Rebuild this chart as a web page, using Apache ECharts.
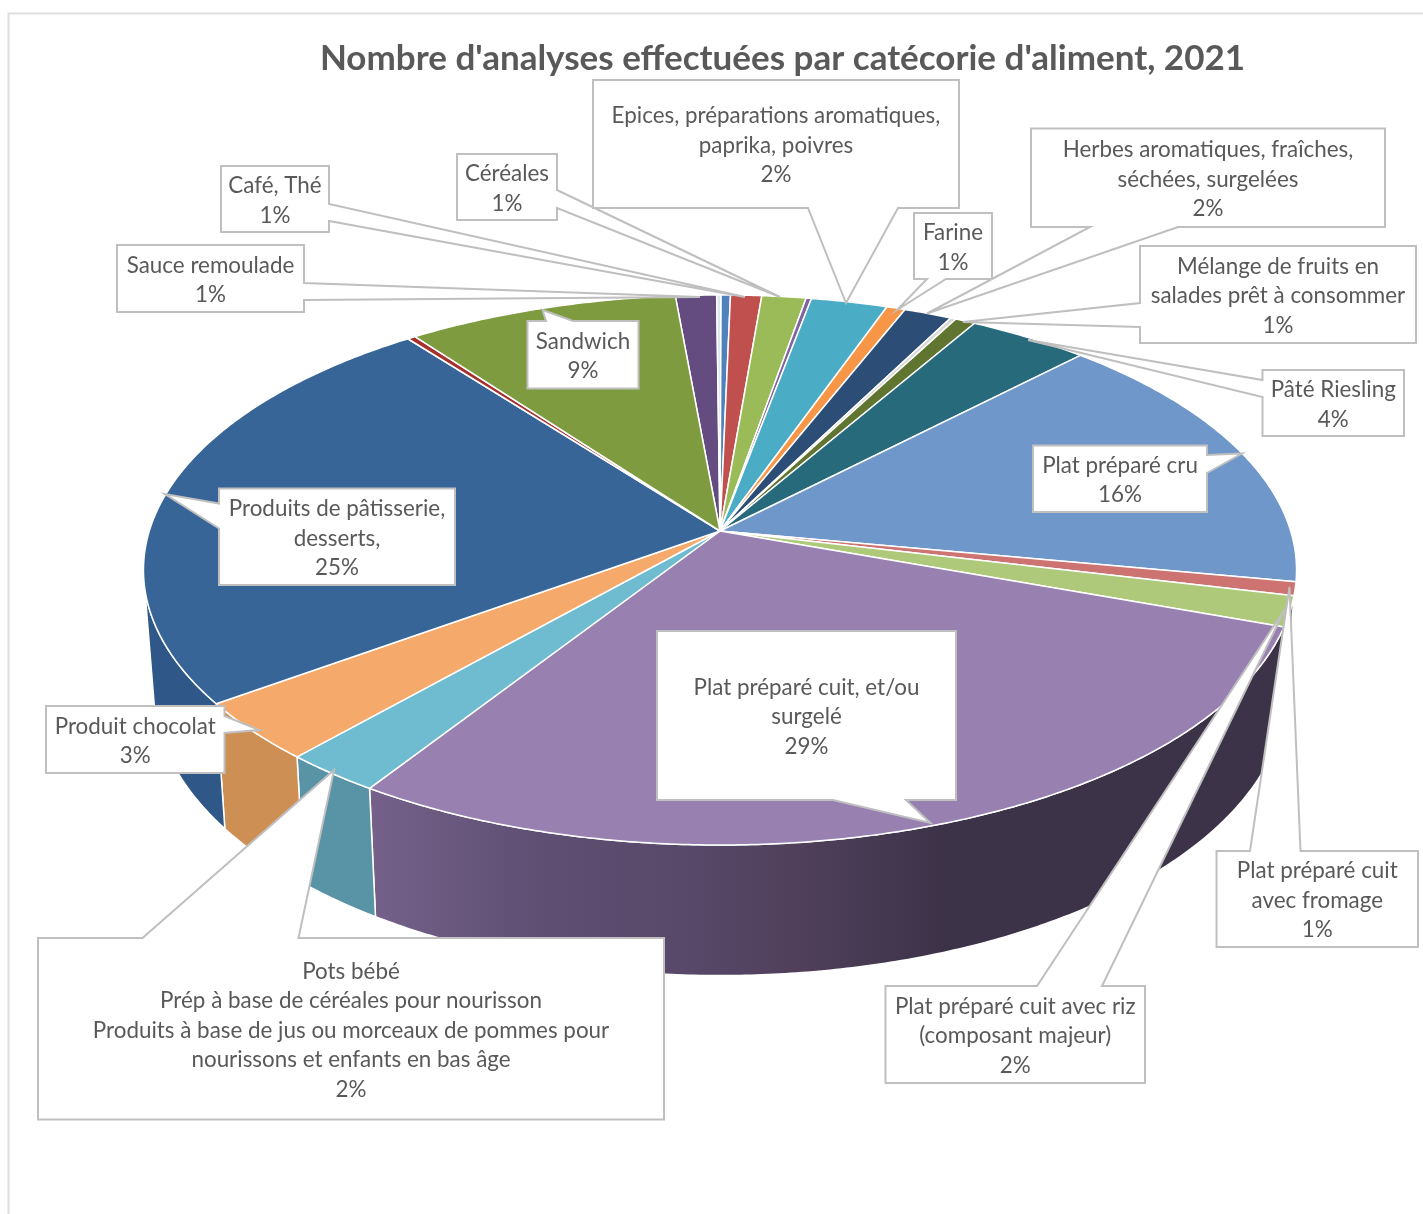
<!DOCTYPE html>
<html lang="fr">
<head>
<meta charset="utf-8">
<title>Nombre d'analyses par catégorie d'aliment</title>
<script src="https://cdn.jsdelivr.net/npm/echarts@6/dist/echarts.min.js"></script>
<style>
  html, body { margin: 0; padding: 0; background: #fff; }
  #chart { width: 1423px; height: 1214px; }
</style>
</head>
<body>
<div id="chart"></div>
<script>
// Shares of analyses per food category, clockwise from the first slice.
// Slices without a name carry no callout.
const sliceNames = [
  'Sauce remoulade', '', '', 'Café, Thé', 'Céréales', '',
  'Epices, préparations aromatiques,\npaprika, poivres', 'Farine',
  'Herbes aromatiques, fraîches,\nséchées, surgelées', '',
  'Mélange de fruits en\nsalades prêt à consommer', 'Pâté Riesling',
  'Plat préparé cru', 'Plat préparé cuit\navec fromage',
  'Plat préparé cuit avec riz\n(composant majeur)',
  'Plat préparé cuit, et/ou\nsurgelé',
  'Pots bébé\nPrép à base de céréales pour nourisson\nProduits à base de jus ou morceaux de pommes pour\nnourissons et enfants en bas âge',
  'Produit chocolat', 'Produits de pâtisserie,\ndesserts,', '', 'Sandwich'
];

const sliceValues = [
  1.32, 0.14, 0.30, 1.00, 1.42, 0.17, 2.46, 0.60, 1.54, 0.18, 0.65,
  3.90, 15.70, 0.79, 1.78, 28.60, 2.43, 3.48, 24.60, 0.26, 8.73
];

const sliceColors = [
  '#644C80', '#DCE6F1', '#4F81BD', '#C0504D', '#9BBB59', '#8064A2',
  '#4BACC6', '#F79646', '#2C4D75', '#D9D9D9', '#5F7530', '#276A7C',
  '#7097C9', '#CD7371', '#AFC97A', '#9880B1', '#6FBBD0', '#F5A96B',
  '#386597', '#A5302E', '#7F9B40'
];

// Side wall shades; only slices facing the viewer have a visible wall.
const wallColors = [
  null, null, null, null, null, null, null, null, null, null, null, null,
  '#3D3349', '#3D3349', '#3D3349', 'gradient', '#5894A6', '#CE8F55',
  '#2F5788', null, null
];
const purpleWallStops = [
  { offset: 0, color: '#75618A' },
  { offset: 0.18, color: '#5F4F73' },
  { offset: 0.355, color: '#574869' },
  { offset: 0.477, color: '#4F3F5A' },
  { offset: 0.624, color: '#3D3349' },
  { offset: 1, color: '#3D3349' }
];

// Callout geometry, keyed by slice index: box [left, top, right, bottom],
// the box side the pointer leaves from, the pointer base and its tip.
const callouts = [
  { slice: 0,  box: [117, 245, 304, 312],    side: 'right',  base: [283, 300],     tip: [700, 297] },
  { slice: 3,  box: [221, 166, 329, 232],    side: 'right',  base: [204, 221],     tip: [745, 297] },
  { slice: 4,  box: [457, 154, 557, 220],    side: 'right',  base: [190, 208],     tip: [780, 297] },
  { slice: 6,  box: [593, 80, 959, 208],     side: 'bottom', base: [808, 898],     tip: [846, 303] },
  { slice: 7,  box: [914, 213, 992, 279],    side: 'bottom', base: [927, 946],     tip: [897, 310] },
  { slice: 8,  box: [1031, 128.5, 1385, 227], side: 'bottom', base: [1090, 1178],  tip: [927, 313.5] },
  { slice: 10, box: [1140, 246, 1416, 343],  side: 'left',   base: [303, 327],     tip: [963, 322] },
  { slice: 11, box: [1262.5, 370, 1404, 436], side: 'left',  base: [380, 397],     tip: [1028, 340] },
  { slice: 12, box: [1033, 445.5, 1207, 512], side: 'right', base: [455, 473],     tip: [1242, 453.5] },
  { slice: 13, box: [1216.5, 851, 1418, 947], side: 'top',   base: [1250, 1300.5], tip: [1289.5, 587] },
  { slice: 14, box: [885.5, 986, 1145, 1083], side: 'top',   base: [1037, 1102],   tip: [1285, 609] },
  { slice: 15, box: [657, 631, 956, 800],    side: 'bottom', base: [833, 906],     tip: [930.5, 823] },
  { slice: 16, box: [38, 938, 664, 1119.5],  side: 'top',    base: [142.5, 298.5], tip: [334, 770] },
  { slice: 17, box: [46, 706, 224.5, 773],   side: 'right',  base: [716, 733],     tip: [259.5, 730] },
  { slice: 18, box: [219, 488.5, 455, 585],  side: 'left',   base: [503.5, 528.5], tip: [165, 494] },
  { slice: 20, box: [527.5, 321, 638.5, 388.5], side: 'top', base: [546, 573],     tip: [542.5, 310] }
];

const chartTitle = "Nombre d'analyses effectuées par catécorie d'aliment, 2021";

// Perspective of the disc: apex of the slices, semi-axes and foreshortening.
const apex = { x: 720, y: 531 };
const semiX = 570.7, semiY = 269.5, tilt = 0.1418;
const firstAngle = -5.13;
const wallFrom = 98, wallTo = 258;
// Lower rim is the upper rim scaled and pushed down.
const lowerScaleX = 0.983, lowerScaleY = 1.04, lowerDrop = 118;

const total = sliceValues.reduce((a, b) => a + b, 0);
const starts = [];
sliceValues.reduce((acc, v, i) => {
  starts[i] = acc;
  return acc + (v / total) * 360;
}, firstAngle);

function rimPoint(deg) {
  const t = (deg * Math.PI) / 180;
  const X = Math.sin(t), Y = -Math.cos(t);
  const w = 1 - tilt * Y;
  return [apex.x + (semiX * X) / w, apex.y + (semiY * Y) / w];
}
function lowerPoint(deg) {
  const p = rimPoint(deg);
  return [
    apex.x + (p[0] - apex.x) * lowerScaleX,
    apex.y + lowerDrop + (p[1] - apex.y) * lowerScaleY
  ];
}
function arcPoints(from, to, fn) {
  const pts = [];
  const n = Math.max(2, Math.ceil((to - from) / 0.5));
  for (let i = 0; i <= n; i++) pts.push(fn(from + ((to - from) * i) / n));
  return pts;
}

function renderWall(params, api) {
  const i = api.value(0);
  const color = wallColors[i];
  const from = Math.max(starts[i], wallFrom);
  const to = Math.min(starts[i] + (api.value(1) / total) * 360, wallTo);
  if (!color || to <= from) return null;
  const points = arcPoints(from, to, rimPoint).concat(arcPoints(from, to, lowerPoint).reverse());
  const fill = color === 'gradient'
    ? new echarts.graphic.LinearGradient(0, 0, 1, 0, purpleWallStops)
    : color;
  return {
    type: 'polygon',
    shape: { points },
    style: { fill, stroke: '#fff', lineWidth: 1.5, lineJoin: 'round' }
  };
}

function renderSlice(params, api) {
  const i = api.value(0);
  const from = starts[i];
  const to = from + (api.value(1) / total) * 360;
  return {
    type: 'polygon',
    shape: { points: [[apex.x, apex.y]].concat(arcPoints(from, to, rimPoint)) },
    style: { fill: sliceColors[i], stroke: '#fff', lineWidth: 1.5, lineJoin: 'round' }
  };
}

function calloutOutline(c) {
  const [l, t, r, b] = c.box;
  const [b1, b2] = c.base;
  if (c.side === 'top') return [[l, t], [b1, t], c.tip, [b2, t], [r, t], [r, b], [l, b]];
  if (c.side === 'right') return [[l, t], [r, t], [r, b1], c.tip, [r, b2], [r, b], [l, b]];
  if (c.side === 'bottom') return [[l, t], [r, t], [r, b], [b2, b], c.tip, [b1, b], [l, b]];
  return [[l, t], [r, t], [r, b], [l, b], [l, b2], c.tip, [l, b1]];
}

function renderCallout(params, api) {
  const c = callouts[api.value(0)];
  const share = Math.round((sliceValues[c.slice] / total) * 100);
  return {
    type: 'group',
    children: [
      {
        type: 'polygon',
        shape: { points: calloutOutline(c) },
        style: { fill: '#fff', stroke: '#BFBFBF', lineWidth: 2, lineJoin: 'miter' }
      },
      {
        type: 'text',
        style: {
          text: sliceNames[c.slice] + '\n' + share + '%',
          x: (c.box[0] + c.box[2]) / 2,
          y: (c.box[1] + c.box[3]) / 2 + 1.6,
          align: 'center',
          verticalAlign: 'middle',
          fontFamily: 'Lato',
          fontSize: 22.4,
          lineHeight: 29.5,
          fill: '#595959'
        }
      }
    ]
  };
}

const chart = echarts.init(document.getElementById('chart'), null, { renderer: 'canvas' });
chart.setOption({
  animation: false,
  backgroundColor: '#fff',
  title: {
    text: chartTitle,
    left: 777.5,
    top: 36,
    textAlign: 'center',
    textStyle: { fontFamily: 'Lato', fontSize: 35, fontWeight: 'bold', color: '#595959' }
  },
  graphic: {
    elements: [{
      type: 'polyline',
      silent: true,
      shape: { points: [[8.5, 1214], [8.5, 13.5], [1423, 13.5]] },
      style: { fill: null, stroke: '#DEDEDE', lineWidth: 2 }
    }]
  },
  series: [
    {
      type: 'custom', coordinateSystem: 'none', silent: true, z: 1,
      renderItem: renderWall,
      data: sliceValues.map((v, i) => [i, v])
    },
    {
      type: 'custom', coordinateSystem: 'none', silent: true, z: 2,
      renderItem: renderSlice,
      data: sliceValues.map((v, i) => [i, v])
    },
    {
      type: 'custom', coordinateSystem: 'none', silent: true, z: 3,
      renderItem: renderCallout,
      data: callouts.map((c, i) => [i])
    }
  ]
});
</script>
</body>
</html>
